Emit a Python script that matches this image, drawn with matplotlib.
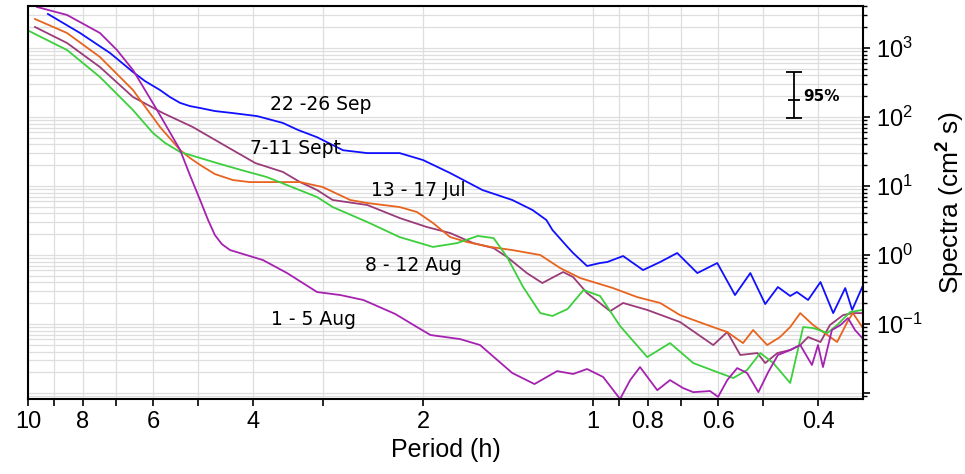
import matplotlib
matplotlib.use("Agg")
import matplotlib.pyplot as plt
from matplotlib.ticker import FixedLocator, LogLocator, NullFormatter, FixedFormatter

plt.rcParams['font.family'] = ['Liberation Sans', 'DejaVu Sans']
plt.rcParams['mathtext.fontset'] = 'custom'
plt.rcParams['mathtext.rm'] = 'Liberation Sans'
plt.rcParams['mathtext.it'] = 'Liberation Sans:italic'
plt.rcParams['mathtext.bf'] = 'Liberation Sans:bold'

# ---- data (period in h, spectra in cm^2 s) ----
sep22_period = [9.22, 8.09, 7.16, 6.52, 6.21, 5.84, 5.61, 5.38, 5.17, 4.96, 4.67, 4.34, 3.93, 3.54, 3.33,
                3.08, 2.77, 2.51, 2.20, 2.00, 1.79, 1.57, 1.39, 1.28, 1.21, 1.18, 1.11, 1.085, 1.025, 0.972,
                0.944, 0.885, 0.816, 0.761, 0.710, 0.654, 0.603, 0.561, 0.527, 0.496, 0.471, 0.448, 0.436,
                0.4165, 0.396, 0.376, 0.358, 0.348, 0.334]
sep22_spec = [3110, 1650, 847, 449, 332, 246, 195, 160, 144, 135, 122, 114, 103, 82, 65,
              51, 33, 30, 30, 23.8, 15.4, 8.75, 6.27, 4.49, 3.22, 2.30, 1.31, 1.07, 0.693, 0.766,
              0.792, 0.967, 0.606, 0.792, 1.07, 0.548, 0.766, 0.263, 0.548, 0.195, 0.344, 0.255, 0.291,
              0.223, 0.406, 0.144, 0.332, 0.160, 0.344]

sep7_period = [9.72, 8.53, 7.46, 6.52, 5.77, 5.11, 4.44, 3.96, 3.54, 3.30, 3.08, 2.89, 2.51, 2.20, 1.97,
               1.79, 1.63, 1.50, 1.42, 1.31, 1.23, 1.13, 1.085, 1.025, 0.933, 0.885, 0.802, 0.702, 0.613,
               0.579, 0.549, 0.512, 0.496, 0.472, 0.448, 0.430, 0.4165, 0.396, 0.381, 0.361, 0.347, 0.334]
sep7_spec = [2015, 1182, 530, 195, 114, 71.6, 36.8, 21.5, 16.0, 11.4, 8.75, 6.27, 5.31, 3.44, 2.55,
             2.08, 1.49, 1.26, 0.936, 0.548, 0.393, 0.567, 0.480, 0.281, 0.154, 0.202, 0.160, 0.107, 0.0496,
             0.0766, 0.0356, 0.0380, 0.0272, 0.0380, 0.0420, 0.0496, 0.0648, 0.0549, 0.0968, 0.135, 0.144, 0.144]

jul13_period = [9.72, 8.53, 7.46, 6.52, 5.84, 5.38, 5.17, 4.96, 4.67, 4.34, 4.05, 3.78, 3.30, 3.01, 2.69,
                2.51, 2.20, 2.05, 1.92, 1.79, 1.67, 1.52, 1.39, 1.24, 1.144, 1.054, 0.922, 0.836, 0.761,
                0.702, 0.628, 0.579, 0.543, 0.521, 0.492, 0.467, 0.448, 0.430, 0.408, 0.385, 0.370, 0.355,
                0.347, 0.334]
jul13_spec = [2630, 1650, 741, 246, 71.6, 33.2, 25.5, 20.2, 14.9, 12.2, 11.4, 11.4, 11.4, 9.67, 6.27,
              5.67, 4.96, 4.20, 2.91, 1.82, 1.54, 1.31, 1.18, 1.0, 0.648, 0.464, 0.332, 0.246, 0.202,
              0.135, 0.0968, 0.0766, 0.0530, 0.0819, 0.0496, 0.0648, 0.0905, 0.144, 0.0968, 0.0693, 0.0549, 0.107,
              0.144, 0.0905]

aug8_period = [9.96, 8.53, 7.46, 6.52, 6.01, 5.72, 5.38, 4.63, 4.20, 3.78, 3.08, 2.89, 2.51, 2.20, 1.92,
               1.74, 1.60, 1.50, 1.42, 1.33, 1.24, 1.18, 1.11, 1.04, 0.972, 0.896, 0.802, 0.731, 0.665,
               0.603, 0.565, 0.534, 0.506, 0.480, 0.448, 0.425, 0.408, 0.385, 0.370, 0.351, 0.334]
aug8_spec = [1764, 935, 380, 126, 58.6, 42, 31.1, 21.5, 17.1, 13.5, 6.93, 4.96, 3.01, 1.82, 1.31,
             1.49, 1.89, 1.76, 0.936, 0.344, 0.144, 0.131, 0.165, 0.311, 0.255, 0.0936, 0.0332, 0.0530, 0.0272,
             0.0201, 0.0165, 0.0216, 0.0380, 0.0272, 0.0140, 0.0905, 0.0875, 0.0741, 0.0968, 0.149, 0.160]

aug1_period = [9.64, 8.53, 7.46, 6.96, 6.52, 5.91, 5.38, 5.17, 4.96, 4.80, 4.67, 4.54, 4.39, 3.84, 3.48,
               3.08, 2.80, 2.55, 2.24, 2.05, 1.94, 1.72, 1.585, 1.39, 1.27, 1.158, 1.085, 1.025, 0.960,
               0.896, 0.860, 0.826, 0.770, 0.731, 0.693, 0.665, 0.621, 0.601, 0.579, 0.556, 0.534, 0.510,
               0.490, 0.471, 0.448, 0.430, 0.410, 0.400, 0.392, 0.378, 0.365, 0.354, 0.344, 0.334]
aug1_spec = [3930, 3010, 1650, 935, 480, 126, 33.2, 14.4, 6.27, 3.2, 1.95, 1.44, 1.18, 0.846, 0.548,
             0.291, 0.263, 0.223, 0.140, 0.0905, 0.0693, 0.0606, 0.0496, 0.0195, 0.0135, 0.0208, 0.0189,
             0.0223, 0.0171, 0.0082, 0.0154, 0.0238, 0.0110, 0.0154, 0.0118, 0.0103, 0.0107, 0.0088, 0.0154,
             0.0230, 0.0195, 0.0103, 0.0201, 0.0356, 0.0420, 0.0496, 0.0255, 0.0496, 0.0238, 0.0819, 0.0968,
             0.122, 0.0819, 0.0627]

series_labels = ["22 -26 Sep", "7-11 Sept", "13 - 17 Jul", "8 - 12 Aug", "1 - 5 Aug"]
label_pos = [(3.04, 154), (3.36, 34.4), (2.04, 8.47), (2.08, 0.716), (3.12, 0.118)]

x_major = [10, 8, 6, 4, 2, 1, 0.8, 0.6, 0.4]
x_major_labels = ["10", "8", "6", "4", "2", "1", "0.8", "0.6", "0.4"]
x_minor = [9, 7, 5, 3, 0.9, 0.7, 0.5]
y_major = [0.01, 0.1, 1, 10, 100, 1000]
y_major_labels = ["", r"$10^{-1}$", r"$10^{0}$", r"$10^{1}$", r"$10^{2}$", r"$10^{3}$"]

ci_period = 0.441
ci_center = 176
ci_low = 96.8
ci_high = 449

# ---- figure ----
fig = plt.figure(figsize=(9.65, 4.74), dpi=100)
ax = fig.add_axes([28 / 965, 1 - 399 / 474, (863 - 28) / 965, (399 - 6) / 474])

colors = ['#1010ff', '#9a3b7a', '#e8641e', '#3ccf3c', '#a522b0']
data = [(sep22_period, sep22_spec), (sep7_period, sep7_spec), (jul13_period, jul13_spec),
        (aug8_period, aug8_spec), (aug1_period, aug1_spec)]
for (p, s), c in zip(data, colors):
    ax.plot(p, s, color=c, lw=1.3, solid_joinstyle='round')

ax.set_xscale('log')
ax.set_yscale('log')
ax.set_xlim(10, 0.333)
ax.set_ylim(0.0082, 4060)

ax.xaxis.set_major_locator(FixedLocator(x_major))
ax.xaxis.set_major_formatter(FixedFormatter(x_major_labels))
ax.xaxis.set_minor_locator(FixedLocator(x_minor))
ax.xaxis.set_minor_formatter(NullFormatter())

ax.yaxis.tick_right()
ax.yaxis.set_label_position('right')
ax.yaxis.set_major_locator(FixedLocator(y_major))
ax.yaxis.set_major_formatter(FixedFormatter(y_major_labels))
ax.yaxis.set_minor_locator(LogLocator(base=10, subs=[2, 3, 4, 5, 6, 7, 8, 9], numticks=20))
ax.yaxis.set_minor_formatter(NullFormatter())

ax.grid(True, which='both', axis='both', color='#dedede', lw=0.9)
ax.set_axisbelow(True)

ax.tick_params(axis='x', which='both', direction='out', length=5, width=1.2, labelsize=17, pad=4)
ax.tick_params(axis='y', which='major', direction='out', length=5, width=1.2, labelsize=17, pad=4)
ax.tick_params(axis='y', which='minor', direction='out', length=3, width=1.0)
for sp in ax.spines.values():
    sp.set_linewidth(1.5)

ax.set_xlabel("Period (h)", fontsize=18, labelpad=3)
ax.set_ylabel(r"Spectra (cm$^{\mathbf{2}}$ s)", fontsize=19, labelpad=9)

for txt, (px, py) in zip(series_labels, label_pos):
    ax.text(px, py, txt, fontsize=13.5, family='DejaVu Sans', ha='center', va='center')

ax.errorbar([ci_period], [ci_center], yerr=[[ci_center - ci_low], [ci_high - ci_center]],
            fmt='_', color='black', ms=9, mew=1.3, elinewidth=1.3, capsize=6, capthick=1.3)
ax.text(0.425, 200, "95%", fontsize=11, family='DejaVu Sans', fontweight='bold', ha='left', va='center')

fig.savefig("out.png", dpi=100)
